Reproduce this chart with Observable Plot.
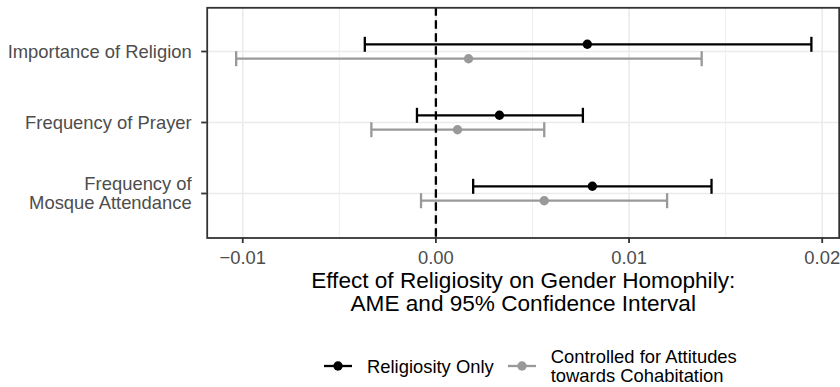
<!DOCTYPE html>
<html><head><meta charset="utf-8">
<script src="https://cdn.jsdelivr.net/npm/d3@7"></script>
<script src="https://cdn.jsdelivr.net/npm/@observablehq/plot@0.6"></script>
<style>
body{margin:0;background:#fff;font-family:"Liberation Sans",Arial,Helvetica,sans-serif;}
#wrap{position:relative;width:840px;height:387px;overflow:hidden;}
#legend{position:absolute;left:324px;top:347px;display:flex;align-items:center;font-size:18.4px;color:#000;}
#legend .item{display:flex;align-items:center;margin-right:14px;}
#legend .key{width:28px;height:16px;margin-right:15px;}
#legend .lab{white-space:pre-line;line-height:19px;}
</style></head><body><div id="wrap"></div>
<script>
const categories = ["Importance of Religion", "Frequency of Prayer", "Frequency of Mosque Attendance"];
const categoryLabels = ["Importance of Religion", "Frequency of Prayer", "Frequency of\nMosque Attendance"];
const series = ["Religiosity Only", "Controlled for Attitudes towards Cohabitation"];
const seriesLabels = ["Religiosity Only", "Controlled for Attitudes\ntowards Cohabitation"];
const seriesColors = ["#000000", "#999999"];
// Religiosity Only
const estOnly = [0.00784, 0.00329, 0.0081];
const loOnly = [-0.00368, -0.00098, 0.00193];
const hiOnly = [0.01944, 0.00761, 0.01427];
// Controlled for attitudes towards cohabitation
const estCtrl = [0.00169, 0.00112, 0.00561];
const loCtrl = [-0.01034, -0.00334, -0.00077];
const hiCtrl = [0.01376, 0.00561, 0.01197];
const xTicks = [-0.01, 0, 0.01, 0.02];
const xTickLabels = ["\u22120.01", "0.00", "0.01", "0.02"];
const xMinor = [-0.005, 0.005, 0.015];
const xTitle = "Effect of Religiosity on Gender Homophily:\nAME and 95% Confidence Interval";

const est = [estOnly, estCtrl], lo = [loOnly, loCtrl], hi = [hiOnly, hiCtrl];
const dodge = [-7.2, 7.2];
const capSymbol = {draw(ctx, size) { const h = Math.sqrt(size / Math.PI); ctx.moveTo(0, -h); ctx.lineTo(0, h); }};

const seriesMarks = series.flatMap((s, k) => {
  const data = categories.map((c, i) => ({category: c, series: s, est: est[k][i], lo: lo[k][i], hi: hi[k][i]}));
  const col = seriesColors[k];
  return [
    Plot.ruleY(data, {y: "category", x1: "lo", x2: "hi", dy: dodge[k], stroke: col, strokeWidth: 2.3}),
    Plot.dot(data, {x: "lo", y: "category", dy: dodge[k], symbol: capSymbol, r: 7.5, stroke: col, fill: "none", strokeWidth: 2.3}),
    Plot.dot(data, {x: "hi", y: "category", dy: dodge[k], symbol: capSymbol, r: 7.5, stroke: col, fill: "none", strokeWidth: 2.3}),
    Plot.dot(data, {x: "est", y: "category", dy: dodge[k], r: 4.7, fill: col, stroke: "none"})
  ];
});

const chart = Plot.plot({
  width: 840, height: 330,
  marginLeft: 206.7, marginRight: 1.3, marginTop: 7.3, marginBottom: 92.5,
  style: {fontFamily: '"Liberation Sans", Arial, Helvetica, sans-serif', color: "#4D4D4D", background: "#fff"},
  x: {domain: [-0.01184, 0.02088]},
  y: {type: "point", domain: categories, padding: 0.6},
  marks: [
    Plot.ruleX(xMinor, {stroke: "#EBEBEB", strokeWidth: 0.8}),
    Plot.ruleX(xTicks, {stroke: "#EBEBEB", strokeWidth: 1.6}),
    Plot.ruleY(categories, {y: d => d, stroke: "#EBEBEB", strokeWidth: 1.6}),
    ...seriesMarks,
    Plot.ruleX([0], {stroke: "#000", strokeWidth: 2.3, strokeDasharray: "8.5,4.5"}),
    Plot.frame({stroke: "#333", strokeWidth: 1.8}),
    Plot.axisX(xTicks, {anchor: "bottom", tickSize: 5.5, tickPadding: 7, fontSize: 18.4, stroke: "#333", strokeWidth: 1.8, label: null,
      tickFormat: d => xTickLabels[xTicks.indexOf(d)]}),
    Plot.axisY(categories, {anchor: "left", tickSize: 5.5, tickPadding: 10, fontSize: 18.4, stroke: "#333", strokeWidth: 1.8, label: null, lineHeight: 1.04,
      tickFormat: d => categoryLabels[categories.indexOf(d)]}),
    Plot.text([xTitle], {frameAnchor: "bottom", lineAnchor: "top", dy: 33, fontSize: 22.6, fill: "#000", lineHeight: 1.04, textAnchor: "middle"})
  ]
});
const wrap = document.getElementById("wrap");
wrap.appendChild(chart);

const legend = document.createElement("div");
legend.id = "legend";
series.forEach((s, k) => {
  const item = document.createElement("div");
  item.className = "item";
  const col = seriesColors[k];
  item.innerHTML = `<svg class="key" width="28" height="16"><line x1="0" x2="28" y1="8" y2="8" stroke="${col}" stroke-width="2.3"/><circle cx="14" cy="8" r="4.7" fill="${col}"/></svg><span class="lab"></span>`;
  item.querySelector(".lab").textContent = seriesLabels[k];
  legend.appendChild(item);
});
wrap.appendChild(legend);
</script>
</body></html>
